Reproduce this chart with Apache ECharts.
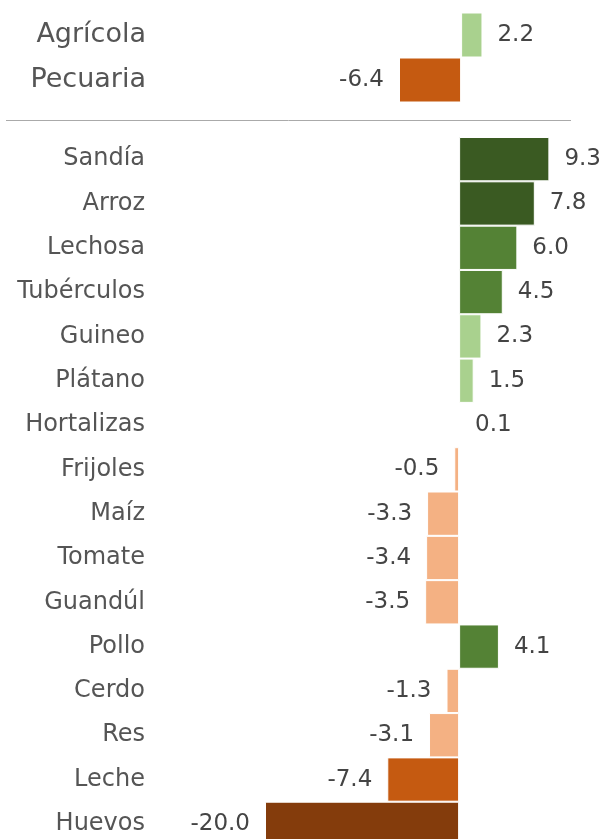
<!DOCTYPE html>
<html>
<head>
<meta charset="utf-8">
<script src="https://cdn.jsdelivr.net/npm/echarts@6/dist/echarts.min.js"></script>
<style>
  html, body { margin: 0; padding: 0; background: #fff; }
  #chart { width: 605px; height: 839px; }
</style>
</head>
<body>
<div id="chart"></div>
<script>
var chart = echarts.init(document.getElementById('chart'));

// sector totals
var sectors = ['Agrícola', 'Pecuaria'];
var sectorValues = [2.2, -6.4];

// products
var products = ['Sandía', 'Arroz', 'Lechosa', 'Tubérculos', 'Guineo', 'Plátano', 'Hortalizas',
    'Frijoles', 'Maíz', 'Tomate', 'Guandúl', 'Pollo', 'Cerdo', 'Res', 'Leche', 'Huevos'];
var productValues = [9.3, 7.8, 6.0, 4.5, 2.3, 1.5, 0.1,
    -0.5, -3.3, -3.4, -3.5, 4.1, -1.3, -3.1, -7.4, -20.0];

function barColor(v) {
    if (v >= 7) return '#3a5a22';
    if (v >= 4) return '#548235';
    if (v >= 0) return '#a9d18e';
    if (v > -5) return '#f4b183';
    if (v > -10) return '#c55a11';
    return '#843c0c';
}

function toItems(values) {
    return values.map(function (v) {
        return {
            value: v,
            itemStyle: { color: barColor(v) },
            label: { position: v < 0 ? 'left' : 'right' }
        };
    });
}

var font = 'DejaVu Sans';

function valueLabel() {
    return {
        show: true, distance: 15, fontSize: 23, fontFamily: font, color: '#444444',
        formatter: function (p) { return p.value.toFixed(1); }
    };
}

var option = {
    animation: false,
    grid: [
        { left: 267, right: 8, top: 12.5, height: 90, outerBoundsMode: 'none' },
        { left: 265, right: 10, top: 137, height: 709, outerBoundsMode: 'none' }
    ],
    xAxis: [
        { gridIndex: 0, type: 'value', min: -20, max: 14, show: false },
        { gridIndex: 1, type: 'value', min: -20, max: 14, show: false }
    ],
    yAxis: [
        {
            gridIndex: 0, type: 'category', data: sectors, inverse: true,
            axisLine: { show: false }, axisTick: { show: false },
            axisLabel: { margin: 121, fontSize: 27, fontFamily: font, color: '#555555' }
        },
        {
            gridIndex: 1, type: 'category', data: products, inverse: true,
            axisLine: { show: false }, axisTick: { show: false },
            axisLabel: { margin: 120, fontSize: 24, fontFamily: font, color: '#555555' }
        }
    ],
    graphic: [{
        type: 'line',
        shape: { x1: 6, y1: 120.5, x2: 571, y2: 120.5 },
        style: { stroke: '#aaaaaa', lineWidth: 1 }
    }],
    series: [
        {
            type: 'bar', xAxisIndex: 0, yAxisIndex: 0,
            barWidth: '100%',
            itemStyle: { borderColor: '#ffffff', borderWidth: 1 },
            label: valueLabel(),
            data: toItems(sectorValues)
        },
        {
            type: 'bar', xAxisIndex: 1, yAxisIndex: 1,
            barWidth: '100%',
            itemStyle: { borderColor: '#ffffff', borderWidth: 1 },
            label: valueLabel(),
            data: toItems(productValues)
        }
    ]
};
chart.setOption(option);
</script>
</body>
</html>
